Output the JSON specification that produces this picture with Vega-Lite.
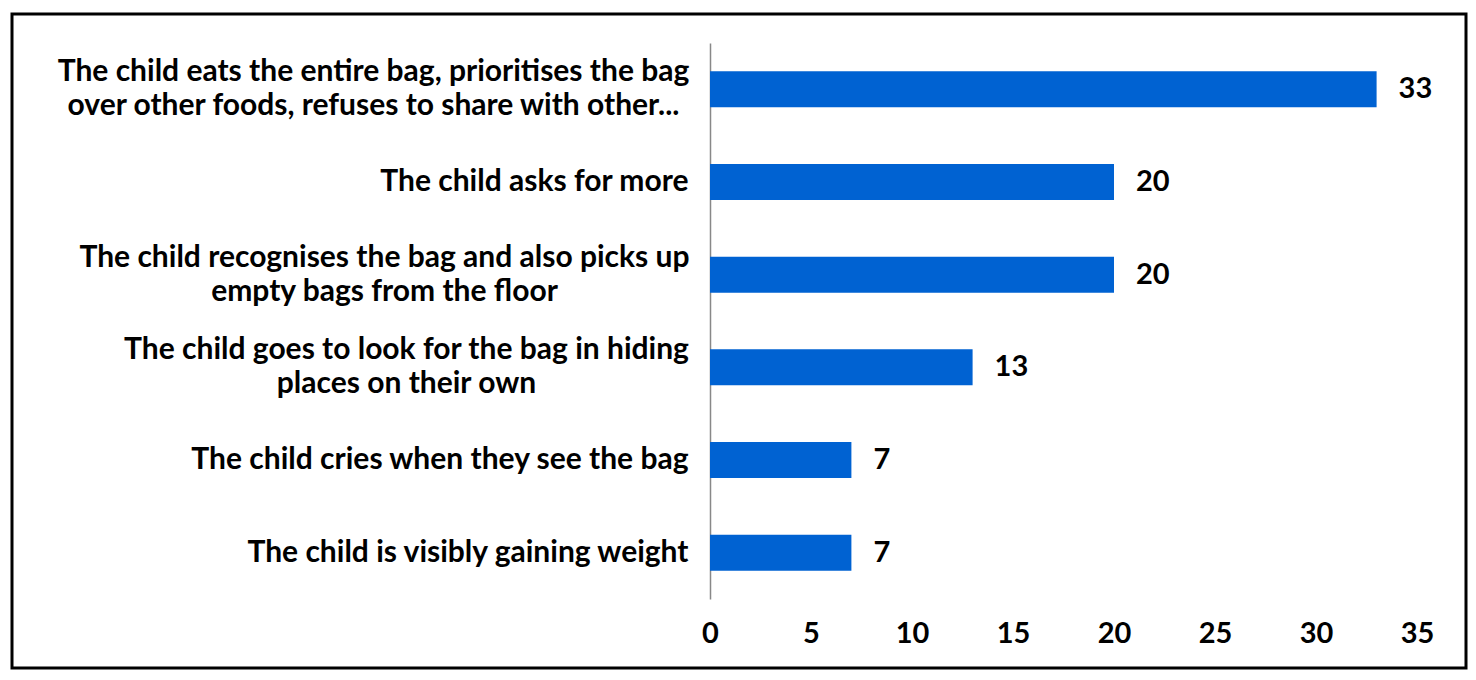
{
  "$schema": "https://vega.github.io/schema/vega-lite/v6.json",
  "autosize": {"type": "none"},
  "padding": {"left": 12, "top": 14, "right": 10, "bottom": 12},
  "width": 1454,
  "height": 654,
  "background": "white",
  "config": {
    "view": {"stroke": "black", "strokeWidth": 3},
    "font": "Lato"
  },
  "data": {
    "values": [
      {"behaviour": "The child eats the entire bag, prioritises the bag|over other foods, refuses to share with other...", "percent": 33},
      {"behaviour": "The child asks for more", "percent": 20},
      {"behaviour": "The child recognises the bag and also picks up|empty bags from the floor", "percent": 20},
      {"behaviour": "The child goes to look for the bag in hiding|places on their own", "percent": 13},
      {"behaviour": "The child cries when they see the bag", "percent": 7},
      {"behaviour": "The child is visibly gaining weight", "percent": 7}
    ]
  },
  "encoding": {
    "y": {
      "field": "behaviour",
      "type": "nominal",
      "sort": null,
      "scale": {"range": [29, 585], "paddingInner": 0.612, "paddingOuter": 0.306},
      "axis": {
        "title": null,
        "orient": "left",
        "offset": -698,
        "domainColor": "#888888",
        "domainWidth": 1.5,
        "ticks": false,
        "labelExpr": "split(datum.label, '|')",
        "labelFont": "Lato",
        "labelFontSize": 30,
        "labelFontWeight": "bold",
        "labelColor": "black",
        "labelLimit": 800,
        "labelLineHeight": 34,
        "labelAlign": {"condition": {"test": "indexof(datum.label, '|') >= 0", "value": "center"}, "value": "right"},
        "labelPadding": {
          "condition": [
            {"test": "indexof(datum.label, 'eats') >= 0", "value": 337},
            {"test": "indexof(datum.label, 'recognises') >= 0", "value": 326},
            {"test": "indexof(datum.label, 'hiding') >= 0", "value": 304}
          ],
          "value": 22
        },
        "labelOffset": {"condition": {"test": "indexof(datum.label, '|') >= 0", "value": -17}, "value": 0}
      }
    },
    "x": {
      "field": "percent",
      "type": "quantitative",
      "scale": {"domain": [0, 35], "range": [698, 1405], "nice": false},
      "axis": {
        "title": null,
        "orient": "bottom",
        "offset": -50,
        "values": [0, 5, 10, 15, 20, 25, 30, 35],
        "domain": false,
        "ticks": false,
        "grid": false,
        "labelFlush": false,
        "labelFont": "Lato",
        "labelFontSize": 29,
        "labelFontWeight": "bold",
        "labelColor": "black",
        "labelPadding": 1
      }
    }
  },
  "layer": [
    {"mark": {"type": "bar", "color": "#0062D2"}},
    {
      "mark": {"type": "text", "align": "left", "baseline": "middle", "dx": 22, "font": "Lato", "fontSize": 29, "fontWeight": "bold", "color": "black"},
      "encoding": {"text": {"field": "percent", "type": "quantitative"}}
    }
  ]
}
